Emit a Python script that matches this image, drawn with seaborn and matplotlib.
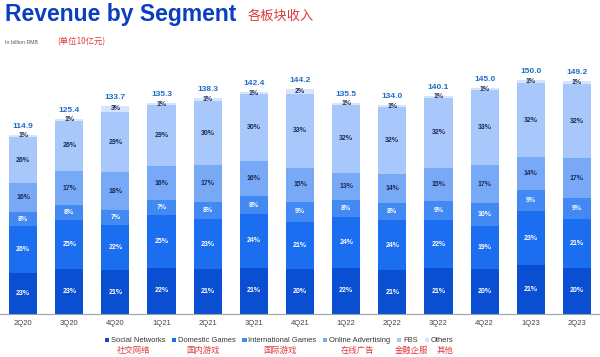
import matplotlib
matplotlib.use("Agg")
import matplotlib.pyplot as plt
import numpy as np
import pandas as pd
import seaborn as sns
from matplotlib.patches import Patch

quarters = ["2Q20", "3Q20", "4Q20", "1Q21", "2Q21", "3Q21", "4Q21",
            "1Q22", "2Q22", "3Q22", "4Q22", "1Q23", "2Q23"]
totals = [114.9, 125.4, 133.7, 135.3, 138.3, 142.4, 144.2,
          135.5, 134.0, 140.1, 145.0, 150.0, 149.2]

# share of revenue per segment (%), bottom to top
social = [23, 23, 21, 22, 21, 21, 20, 22, 21, 21, 20, 21, 20]
domestic = [26, 25, 22, 25, 23, 24, 21, 24, 24, 22, 19, 23, 21]
international = [8, 8, 7, 7, 8, 8, 9, 8, 8, 9, 10, 9, 9]
online_ads = [16, 17, 18, 16, 17, 16, 15, 13, 14, 15, 17, 14, 17]
fbs = [26, 26, 29, 29, 30, 30, 33, 32, 32, 32, 33, 32, 32]
others = [1, 1, 3, 1, 1, 1, 2, 1, 1, 1, 1, 1, 1]

seg_en = ["Social Networks", "Domestic Games", "International Games",
          "Online Advertising", "FBS", "Others"]
seg_cn = ["社交网络", "国内游戏", "国际游戏", "在线广告", "金融企服", "其他"]
colors = ["#0a4fd2", "#1b6ef0", "#4289f4", "#78a9f7", "#a8c7fa", "#d6e5fc"]
txt_colors = ["white", "white", "white", "#1b2a55", "#1b2a55", "#1b2a55"]

sns.set_theme(style="white")
plt.rcParams["font.family"] = ["Liberation Sans", "Noto Sans CJK SC", "DejaVu Sans"]

shares = np.array([social, domestic, international, online_ads, fbs, others], dtype=float)
tot = np.array(totals)
heights = shares / 100.0 * tot
cum = np.cumsum(heights, axis=0)

fig = plt.figure(figsize=(6.0, 3.57), dpi=100)
ax = fig.add_axes([0.0, 0.12, 1.0, 0.712])

# draw cumulative layers from top to bottom so each one covers the rest
for i in range(len(seg_en) - 1, -1, -1):
    df = pd.DataFrame({"quarter": quarters, "value": cum[i]})
    sns.barplot(data=df, x="quarter", y="value", color=colors[i],
                width=0.61, saturation=1, ax=ax, linewidth=0,
                edgecolor="none")

for j in range(len(quarters)):
    for i in range(len(seg_en)):
        mid = cum[i, j] - heights[i, j] / 2
        ax.text(j, mid, f"{int(shares[i, j])}%", ha="center", va="center",
                fontsize=5, color=txt_colors[i], fontweight="bold")
    ax.text(j, cum[-1, j] + 5.5, f"{totals[j]:.1f}", ha="center", va="center",
            fontsize=6, color="#1f6cc4", fontweight="bold")

ax.set_xlim(-0.5, len(quarters) - 0.5)
ax.set_ylim(0, 163)
ax.set_xlabel("")
ax.set_ylabel("")
ax.set_yticks([])
ax.tick_params(axis="x", labelsize=5.5, colors="#444444", length=0, pad=4)
for s in ["top", "left", "right"]:
    ax.spines[s].set_visible(False)
ax.spines["bottom"].set_color("#9aa3ad")
ax.spines["bottom"].set_linewidth(0.8)

fig.text(0.008, 0.958, "Revenue by Segment", fontsize=16.5, fontweight="bold",
         color="#0a3fbf", va="center", ha="left")
fig.text(0.412, 0.955, "各板块收入", fontsize=9.5, color="#e03a3e",
         va="center", ha="left", family=["Noto Sans CJK SC", "DejaVu Sans"])
fig.text(0.008, 0.882, "In billion RMB", fontsize=3.8, color="#555555",
         va="center", ha="left")
fig.text(0.095, 0.882, "(单位10亿元)", fontsize=6, color="#e03a3e",
         va="center", ha="left", family=["Noto Sans CJK SC", "DejaVu Sans"])

handles = [Patch(facecolor=c, edgecolor="none") for c in colors]
fig.legend(handles, seg_en, loc="center", bbox_to_anchor=(0.465, 0.045),
           ncol=6, frameon=False, fontsize=5.4, handlelength=0.55,
           handleheight=0.55, handletextpad=0.25, columnspacing=0.9,
           labelcolor="#333333")

cn_x = [0.222, 0.338, 0.467, 0.595, 0.686, 0.742]
for x, t in zip(cn_x, seg_cn):
    fig.text(x, 0.018, t, fontsize=6, color="#e03a3e", ha="center", va="center",
             family=["Noto Sans CJK SC", "DejaVu Sans"])

fig.savefig("out.png", dpi=100)
